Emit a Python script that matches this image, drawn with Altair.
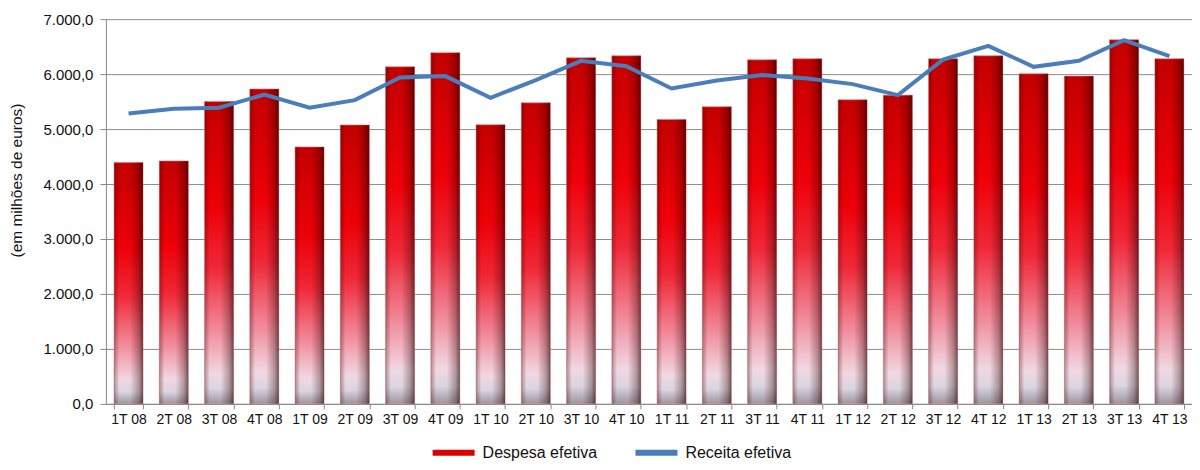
import altair as alt
import pandas as pd

categorias = ["1T 08", "2T 08", "3T 08", "4T 08", "1T 09", "2T 09", "3T 09", "4T 09",
              "1T 10", "2T 10", "3T 10", "4T 10", "1T 11", "2T 11", "3T 11", "4T 11",
              "1T 12", "2T 12", "3T 12", "4T 12", "1T 13", "2T 13", "3T 13", "4T 13"]
despesa = [4390, 4420, 5500, 5730, 4675, 5075, 6133, 6390, 5078, 5478, 6297, 6333,
           5176, 5406, 6260, 6279, 5533, 5618, 6279, 6333, 6006, 5964, 6624, 6279]
receita = [5285, 5370, 5390, 5628, 5388, 5527, 5940, 5964, 5569, 5891, 6242, 6145,
           5740, 5885, 5982, 5921, 5818, 5618, 6267, 6515, 6133, 6242, 6618, 6327]
series = ["Despesa efetiva", "Receita efetiva"]

df_d = pd.DataFrame({"cat": categorias, "valor": despesa})
df_r = pd.DataFrame({"cat": categorias, "valor": receita, "serie": series[1]})

FONT = "Liberation Sans"

x_enc = alt.X("cat:N", sort=categorias, title=None,
              scale=alt.Scale(paddingInner=0.36, paddingOuter=0.18),
              axis=alt.Axis(labelAngle=0, labelFontSize=14, labelColor="#111111",
                            labelFont=FONT, tickBand="extent", tickSize=5,
                            tickColor="#888888", domainColor="#888888",
                            labelPadding=4, grid=False))
y_enc = alt.Y("valor:Q", title="(em milhões de euros)",
              scale=alt.Scale(domain=[0, 7000], nice=False),
              axis=alt.Axis(values=[0, 1000, 2000, 3000, 4000, 5000, 6000, 7000],
                            labelExpr="replace(replace(replace(format(datum.value, ',.1f'), ',', '_'), '.', ','), '_', '.')",
                            labelFontSize=15, labelColor="#111111", labelFont=FONT,
                            titleFont=FONT, titleFontSize=15.5, titleFontWeight="normal",
                            titleColor="#111111", titleX=-81, titleY=161,
                            tickSize=6, tickColor="#888888", domainColor="#888888",
                            gridColor="#8c8c8c", gridWidth=1, labelPadding=7))

grad_v = alt.Gradient(
    gradient="linear", x1=0, y1=0, x2=0, y2=1,
    stops=[
        alt.GradientStop(offset=0, color="#c20000"),
        alt.GradientStop(offset=0.35, color="#ee0008"),
        alt.GradientStop(offset=0.55, color="#f02838"),
        alt.GradientStop(offset=0.75, color="#f08898"),
        alt.GradientStop(offset=0.9, color="#f0d8e2"),
        alt.GradientStop(offset=0.95, color="#dcd4e0"),
        alt.GradientStop(offset=1, color="#9a96a0"),
    ])
grad_h = alt.Gradient(
    gradient="linear", x1=0, y1=0, x2=1, y2=0,
    stops=[
        alt.GradientStop(offset=0, color="rgba(60,0,0,0.35)"),
        alt.GradientStop(offset=0.18, color="rgba(60,0,0,0.0)"),
        alt.GradientStop(offset=0.55, color="rgba(60,0,0,0.0)"),
        alt.GradientStop(offset=0.85, color="rgba(40,0,0,0.3)"),
        alt.GradientStop(offset=1, color="rgba(30,0,0,0.6)"),
    ])

bars = alt.Chart(df_d).mark_bar(fill=grad_v, stroke="#e08080", strokeWidth=0.6).encode(
    x=x_enc, y=y_enc)
shade = alt.Chart(df_d).mark_bar(fill=grad_h).encode(x=x_enc, y=y_enc)

line = alt.Chart(df_r).mark_line(strokeWidth=4, strokeJoin="miter").encode(
    x=x_enc, y=y_enc,
    color=alt.Color("serie:N",
                    scale=alt.Scale(domain=series, range=["#dd0000", "#4a7ebb"]),
                    legend=alt.Legend(title=None, orient="none", direction="horizontal",
                                      legendX=324, legendY=410,
                                      symbolType="stroke", symbolSize=1764,
                                      symbolStrokeWidth=6, labelFontSize=16,
                                      labelFont=FONT, labelColor="#111111",
                                      columnPadding=26, labelOffset=5)))

chart = alt.layer(bars, shade, line).properties(
    width=1087, height=385,
    padding={"left": 2, "top": 4, "right": 0, "bottom": 0}
).configure_view(stroke=None).configure_axisX(grid=False)

chart.save("out.html", embed_options={"renderer": "svg", "actions": False})
